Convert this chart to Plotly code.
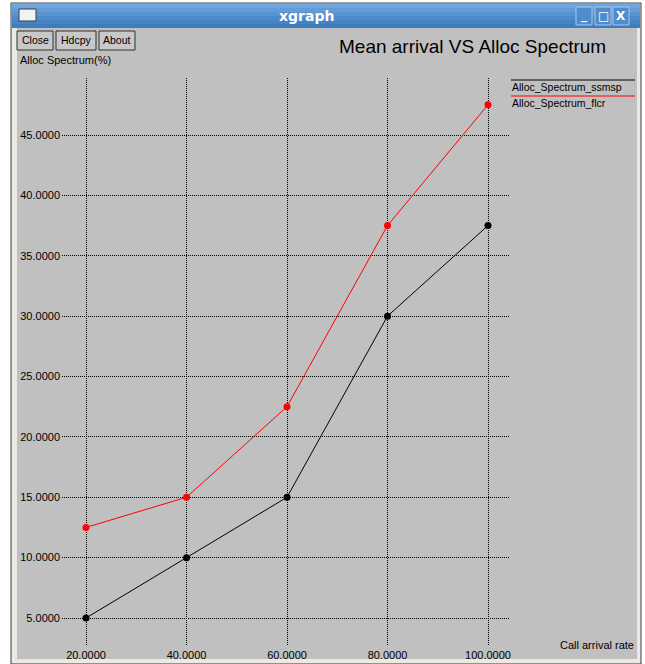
import plotly.graph_objects as go

# ---- data ----
x_vals = [20, 40, 60, 80, 100]
ssmsp = [5.0, 10.0, 15.0, 30.0, 37.5]
flcr = [12.5, 15.0, 22.5, 37.5, 47.5]
series_names = ["Alloc_Spectrum_ssmsp", "Alloc_Spectrum_flcr"]
series_colors = ["black", "red"]
x_ticks = [20, 40, 60, 80, 100]
y_ticks = [5, 10, 15, 20, 25, 30, 35, 40, 45]

W, H = 645, 664
L, R, T, B = 62, 135, 78, 19
PW, PH = W - L - R, H - T - B

def fx(px):
    return (px - L) / PW

def fy(py):
    return (H - B - py) / PH

fig = go.Figure()
for vals, name, col in zip([ssmsp, flcr], series_names, series_colors):
    fig.add_trace(go.Scatter(x=x_vals, y=vals, mode="lines+markers", name=name,
                             line=dict(color=col, width=1),
                             marker=dict(color=col, size=7, symbol="circle"),
                             showlegend=False))

shapes = []
def rect(x0, y0, x1, y1, fill, line=None, lw=0, layer="below"):
    shapes.append(dict(type="rect", xref="paper", yref="paper",
                       x0=fx(x0), x1=fx(x1), y0=fy(y1), y1=fy(y0),
                       fillcolor=fill, line=dict(color=line or fill, width=lw), layer=layer))

def hline(x0, x1, y, col, lw=1, layer="below"):
    shapes.append(dict(type="line", xref="paper", yref="paper",
                       x0=fx(x0), x1=fx(x1), y0=fy(y), y1=fy(y),
                       line=dict(color=col, width=lw), layer=layer))

# window frame
rect(11, 3, 641, 664, "#ece9e2", "#3a3a3a", 1)
rect(17, 28, 637, 659, "#c0c0c0")
# title bar gradient
blues = ["#6fa5dc", "#639cd6", "#5893d0", "#4e8bca", "#4583c4", "#3d7cbe"]
for i, c in enumerate(blues):
    rect(12, 4 + i * 4, 640, 8 + i * 4, c)
# window icon
rect(19, 9, 36, 21, "#f2f2f2", "#404040", 1)
# title buttons
for bx in [576, 595, 613]:
    rect(bx, 7, bx + 16, 25, "#4f8ccc", "#a8c8ec", 1)
# xgraph buttons
for bx0, bx1 in [(17, 53), (56, 96), (99, 135)]:
    rect(bx0, 31, bx1, 50, "#c8c8c8", "#303030", 1)
# legend lines
hline(511, 635, 80, "black", 1)
hline(511, 635, 96, "red", 1)

annotations = []
def text(px, py, s, size=11, color="black", anchor="left", bold=False, family="Liberation Sans"):
    annotations.append(dict(xref="paper", yref="paper", x=fx(px), y=fy(py), text=("<b>%s</b>" % s if bold else s),
                            showarrow=False, xanchor=anchor, yanchor="middle",
                            font=dict(size=size, color=color, family=family)))

text(306, 16, "xgraph", 14, "white", "center", True, "DejaVu Sans")
text(584, 16, "_", 12, "white", "center", True, "DejaVu Sans")
text(603, 16, "□", 12, "white", "center", True, "DejaVu Sans")
text(621, 16, "X", 12, "white", "center", True, "DejaVu Sans")
text(35, 40, "Close", 10.5, anchor="center")
text(76, 40, "Hdcpy", 10.5, anchor="center")
text(117, 40, "About", 10.5, anchor="center")
text(472, 47, "Mean arrival VS Alloc Spectrum", 19, anchor="center")
text(18, 60, "Alloc Spectrum(%)", 11)
text(636, 645, "Call arrival rate", 11, anchor="right")
for i, (name, col) in enumerate(zip(series_names, series_colors)):
    text(510, 87 + i * 16, name, 10.5)

x_lo = x_ticks[0] - (86 - L) / ((488 - 86) / (x_ticks[-1] - x_ticks[0]))
x_hi = x_ticks[-1] + (L + PW - 488) / ((488 - 86) / (x_ticks[-1] - x_ticks[0]))
ypx = (618 - 135) / (y_ticks[-1] - y_ticks[0])
y_lo = y_ticks[0] - (H - B - 618) / ypx
y_hi = y_ticks[0] + (618 - T) / ypx

fig.update_layout(
    width=W, height=H, autosize=False,
    margin=dict(l=L, r=R, t=T, b=B, pad=0),
    paper_bgcolor="white", plot_bgcolor="rgba(0,0,0,0)",
    shapes=shapes, annotations=annotations,
    font=dict(family="Liberation Sans", size=11, color="black"),
    xaxis=dict(range=[x_lo, x_hi], tickvals=x_ticks, tickformat=".4f", automargin=False,
               showgrid=True, gridcolor="black", griddash="1px,1px", gridwidth=1,
               zeroline=False, showline=False, ticks="", ticklabelstandoff=2,
               tickfont=dict(size=11, family="Liberation Sans")),
    yaxis=dict(range=[y_lo, y_hi], tickvals=y_ticks, tickformat=".4f", automargin=False,
               showgrid=True, gridcolor="black", griddash="1px,1px", gridwidth=1,
               zeroline=False, showline=False, ticks="", ticklabelstandoff=1,
               tickfont=dict(size=11, family="Liberation Sans")),
)

fig.write_html("out.html", config={"displayModeBar": False},
               post_script="document.body.style.margin='0px';document.body.style.overflow='hidden';")
